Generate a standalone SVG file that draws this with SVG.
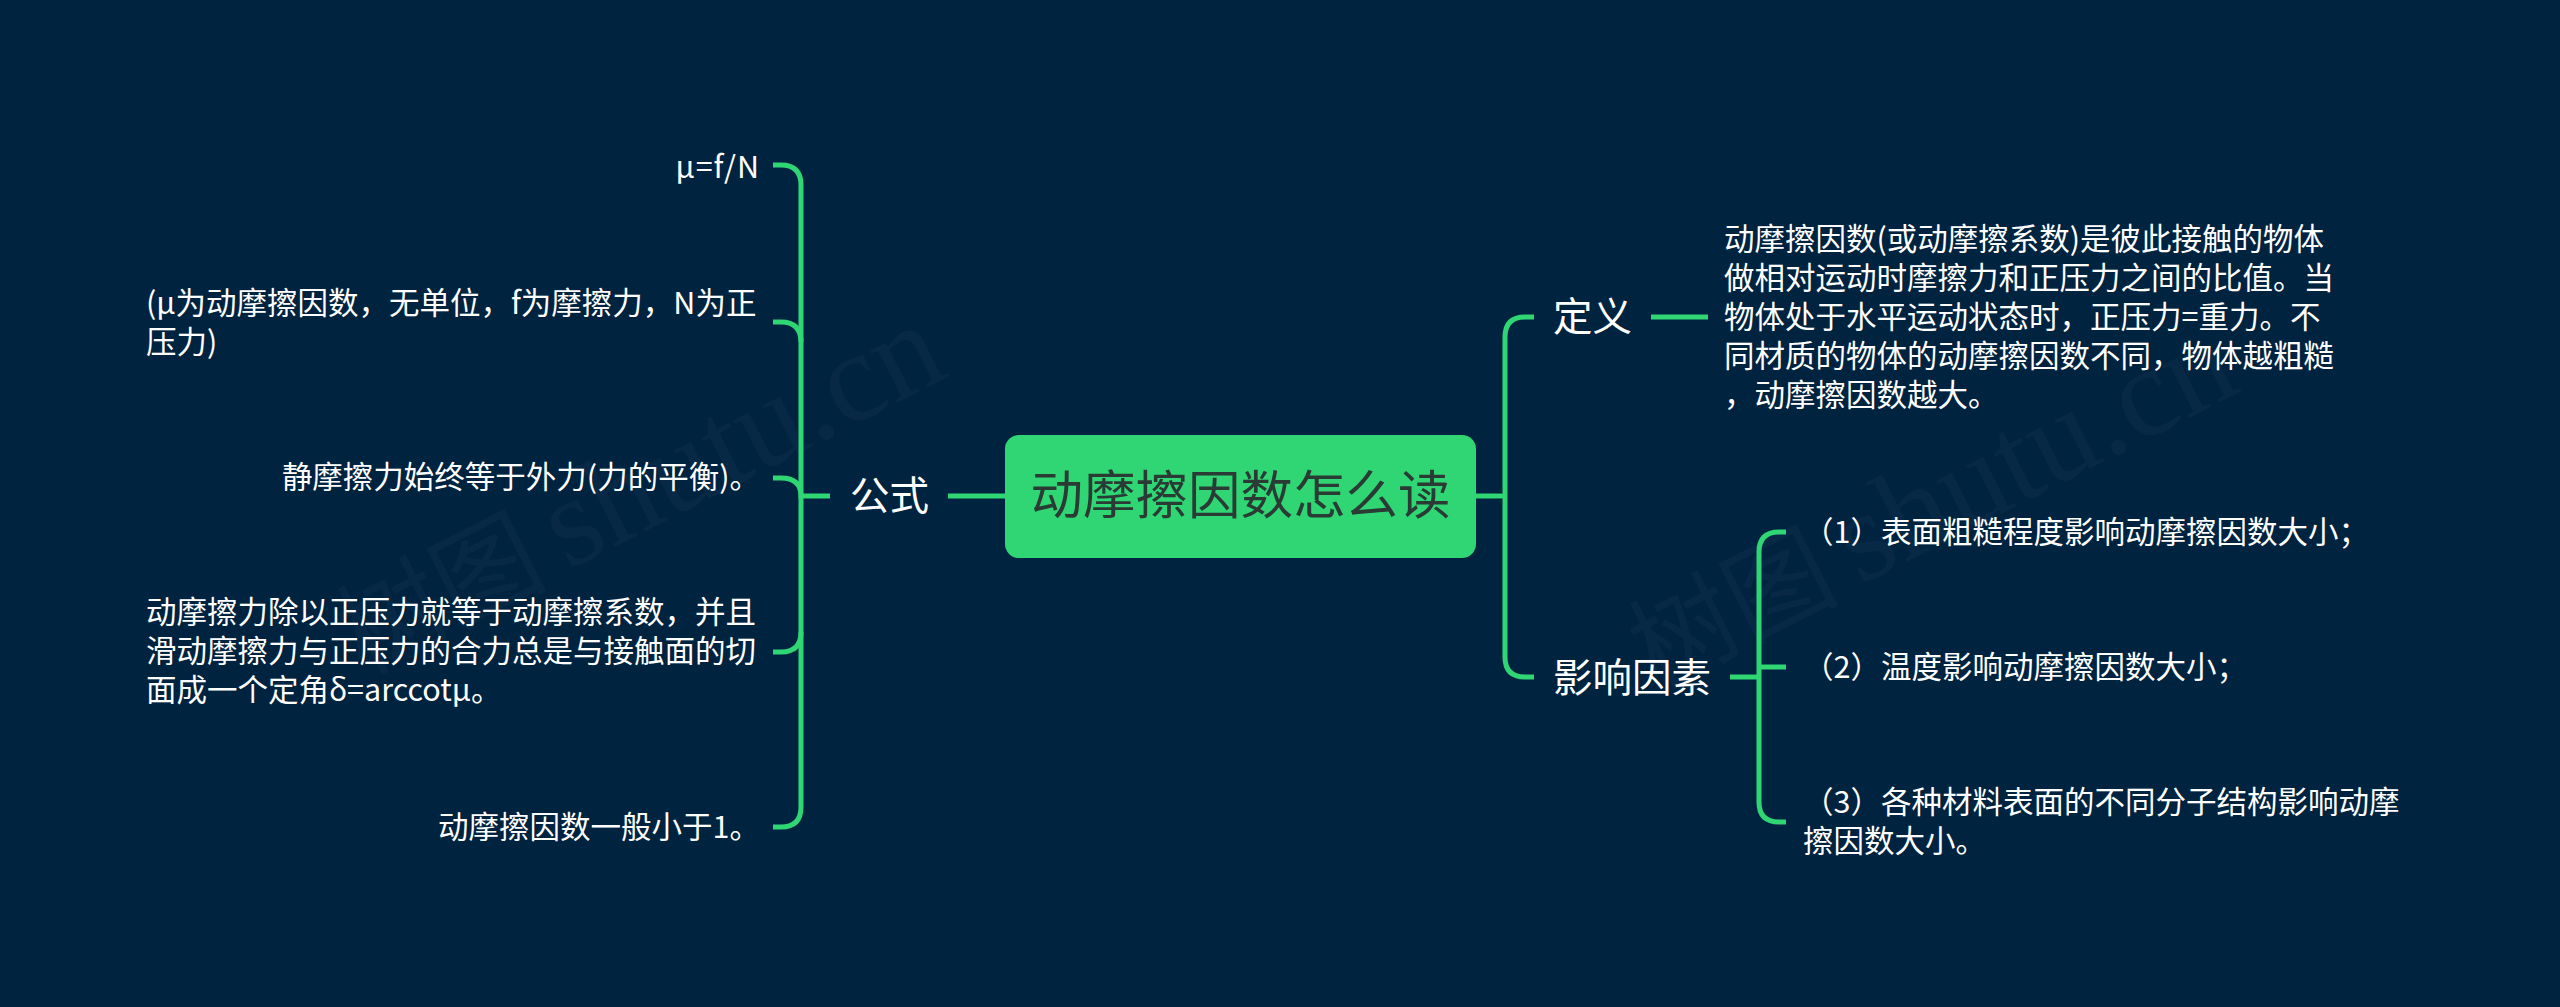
<svg xmlns="http://www.w3.org/2000/svg" width="2560" height="1007" viewBox="0 0 2560 1007">
<style>
text{font-family:"Noto Sans CJK SC","Noto Sans",sans-serif;fill:#fff}
.t{font-size:30.5px}
.b{font-size:39.5px}
.e{text-anchor:end}
.r{font-size:52.500px;fill:#2a3b35;text-anchor:middle}
.w{font-family:"Liberation Serif","Noto Sans CJK SC",serif;font-size:128px;fill:#fff;fill-opacity:.03}
.wc{font-size:105px}
.c{fill:none;stroke:#2fd673;stroke-width:5}
</style>
<rect width="2560" height="1007" fill="#002340"/>
<g id="watermark">
<text class="w" transform="translate(363 675) rotate(-27)"><tspan class="wc">树图</tspan><tspan dx="20">shutu.cn</tspan></text>
<text class="w" transform="translate(1655 690) rotate(-27)"><tspan class="wc">树图</tspan><tspan dx="20">shutu.cn</tspan></text>
</g>
<g id="connectors" transform="translate(0 1)">
<path class="c" d="M948 495H1005"/>
<path class="c" d="M773 164H781Q801 164 801 184V806Q801 826 781 826H773"/>
<path class="c" d="M773 321H781Q801 321 801 341"/>
<path class="c" d="M773 477H781Q801 477 801 495H830"/>
<path class="c" d="M773 651H781Q801 651 801 631"/>
<path class="c" d="M1476 495H1505"/>
<path class="c" d="M1534 316H1525Q1505 316 1505 336V656Q1505 676 1525 676H1534"/>
<path class="c" d="M1651 316H1708"/>
<path class="c" d="M1730 676H1759"/>
<path class="c" d="M1786 531H1779Q1759 531 1759 551V801Q1759 821 1779 821H1786"/>
<path class="c" d="M1759 666H1786"/>
</g>
<g id="root"><rect x="1005" y="435" width="471" height="123" rx="14" fill="#2fd673"/><text class="r" x="1240.500" y="514">动摩擦因数怎么读</text></g>
<g id="n-gongshi"><text class="b" x="850" y="510">公式</text></g>
<g id="n-dingyi"><text class="b" x="1553" y="331">定义</text></g>
<g id="n-yingxiang"><text class="b" x="1553" y="692">影响因素</text></g>
<g id="l1"><text class="t e" x="760" y="178" letter-spacing="1">μ=f/N</text></g>
<g id="l2"><text class="t" x="146" y="314">(μ为动摩擦因数，无单位，f为摩擦力，N为正</text><text class="t" x="146" y="353">压力)</text></g>
<g id="l3"><text class="t e" x="760" y="488">静摩擦力始终等于外力(力的平衡)。</text></g>
<g id="l4"><text class="t" x="146" y="623">动摩擦力除以正压力就等于动摩擦系数，并且</text><text class="t" x="146" y="662">滑动摩擦力与正压力的合力总是与接触面的切</text><text class="t" x="146" y="701">面成一个定角δ=arccotμ。</text></g>
<g id="l5"><text class="t e" x="760" y="838">动摩擦因数一般小于1。</text></g>
<g id="d1"><text class="t" x="1724" y="250">动摩擦因数(或动摩擦系数)是彼此接触的物体</text><text class="t" x="1724" y="289">做相对运动时摩擦力和正压力之间的比值。当</text><text class="t" x="1724" y="328">物体处于水平运动状态时，正压力=重力。不</text><text class="t" x="1724" y="367">同材质的物体的动摩擦因数不同，物体越粗糙</text><text class="t" x="1724" y="406">，动摩擦因数越大。</text></g>
<g id="f1"><text class="t" x="1803" y="543">（1）表面粗糙程度影响动摩擦因数大小；</text></g>
<g id="f2"><text class="t" x="1803" y="678">（2）温度影响动摩擦因数大小；</text></g>
<g id="f3"><text class="t" x="1803" y="813">（3）各种材料表面的不同分子结构影响动摩</text><text class="t" x="1803" y="852">擦因数大小。</text></g>
</svg>
